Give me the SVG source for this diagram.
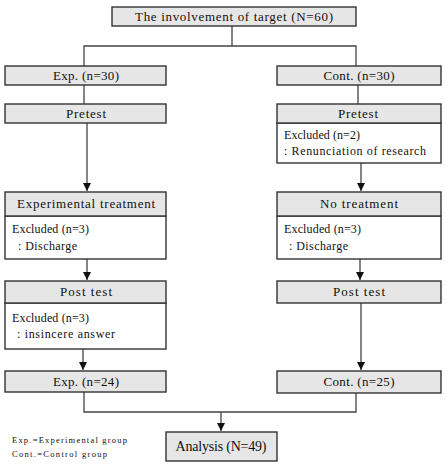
<svg xmlns="http://www.w3.org/2000/svg" width="446" height="464" viewBox="0 0 446 464">
<style>
.h{fill:#e6e6e6;stroke:#333;stroke-width:1.4}
.b{fill:#fff;stroke:#333;stroke-width:1.4}
.t{font-family:"Liberation Serif",serif;font-size:13px;fill:#111}
.s{font-family:"Liberation Serif",serif;font-size:12px;fill:#111}
.l{font-family:"Liberation Serif",serif;font-size:8.5px;fill:#111}
.c{fill:none;stroke:#444;stroke-width:1.3}
</style>
<defs>
<marker id="a" viewBox="0 0 10 10" refX="10" refY="5" markerWidth="8" markerHeight="8" markerUnits="userSpaceOnUse" orient="auto"><path d="M0,0 L10,5 L0,10 z" fill="#111"/></marker>
</defs>
<rect width="446" height="464" fill="#fff"/>
<g id="connectors">
<path class="c" d="M232,26 V46 M84,66 V46 H356 V66"/>
<path class="c" d="M84,85 V104 M358,85 V104"/>
<path class="c" d="M87,123 V191" marker-end="url(#a)"/>
<path class="c" d="M361,163 V191" marker-end="url(#a)"/>
<path class="c" d="M87,259 V280" marker-end="url(#a)"/>
<path class="c" d="M360,259 V280" marker-end="url(#a)"/>
<path class="c" d="M83,349 V370" marker-end="url(#a)"/>
<path class="c" d="M361,303 V370" marker-end="url(#a)"/>
<path class="c" d="M84,392 V412 H356 V393"/>
<path class="c" d="M221,412 V431" marker-end="url(#a)"/>
</g>
<g id="n-target"><rect class="h" x="112" y="7" width="244" height="19"/><text class="t" x="234" y="21" text-anchor="middle" textLength="198" lengthAdjust="spacing">The involvement of target (N=60)</text></g>
<g id="n-exp30"><rect class="h" x="5" y="66" width="161" height="19"/><text class="t" x="86" y="80" text-anchor="middle" textLength="66" lengthAdjust="spacing">Exp. (n=30)</text></g>
<g id="n-cont30"><rect class="h" x="277" y="66" width="164" height="19"/><text class="t" x="359" y="80" text-anchor="middle" textLength="71" lengthAdjust="spacing">Cont. (n=30)</text></g>
<g id="n-pre-l"><rect class="h" x="5" y="104" width="161" height="19"/><text class="t" x="86" y="118" text-anchor="middle" textLength="40" lengthAdjust="spacing">Pretest</text></g>
<g id="n-pre-r"><rect class="b" x="277" y="123" width="164" height="40"/><rect class="h" x="277" y="104" width="164" height="19"/><text class="t" x="358" y="118" text-anchor="middle" textLength="40" lengthAdjust="spacing">Pretest</text><text class="s" x="284" y="139" textLength="76" lengthAdjust="spacing">Excluded (n=2)</text><text class="s" x="284" y="155" textLength="142" lengthAdjust="spacing">: Renunciation of research</text></g>
<g id="n-treat"><rect class="b" x="5" y="216" width="161" height="43"/><rect class="h" x="5" y="192" width="161" height="24"/><text class="t" x="86" y="208" text-anchor="middle" textLength="138" lengthAdjust="spacing">Experimental treatment</text><text class="s" x="12" y="233" textLength="77" lengthAdjust="spacing">Excluded (n=3)</text><text class="s" x="18" y="250" textLength="59" lengthAdjust="spacing">: Discharge</text></g>
<g id="n-notreat"><rect class="b" x="277" y="216" width="164" height="43"/><rect class="h" x="277" y="192" width="164" height="24"/><text class="t" x="359" y="208" text-anchor="middle" textLength="78" lengthAdjust="spacing">No treatment</text><text class="s" x="284" y="233" textLength="77" lengthAdjust="spacing">Excluded (n=3)</text><text class="s" x="289" y="250" textLength="59" lengthAdjust="spacing">: Discharge</text></g>
<g id="n-post-l"><rect class="b" x="5" y="303" width="161" height="46"/><rect class="h" x="5" y="281" width="161" height="22"/><text class="t" x="86" y="296" text-anchor="middle" textLength="52" lengthAdjust="spacing">Post test</text><text class="s" x="12" y="322" textLength="77" lengthAdjust="spacing">Excluded (n=3)</text><text class="s" x="17" y="338" textLength="98" lengthAdjust="spacing">: insincere answer</text></g>
<g id="n-post-r"><rect class="h" x="277" y="281" width="164" height="22"/><text class="t" x="359" y="296" text-anchor="middle" textLength="52" lengthAdjust="spacing">Post test</text></g>
<g id="n-exp24"><rect class="h" x="5" y="371" width="161" height="21"/><text class="t" x="86" y="386" text-anchor="middle" textLength="66" lengthAdjust="spacing">Exp. (n=24)</text></g>
<g id="n-cont25"><rect class="h" x="277" y="371" width="164" height="22"/><text class="t" x="359" y="386" text-anchor="middle" textLength="71" lengthAdjust="spacing">Cont. (n=25)</text></g>
<g id="n-analysis"><rect class="h" x="166" y="432" width="111" height="29"/><text class="t" x="221" y="451" text-anchor="middle" textLength="91" lengthAdjust="spacing" style="font-size:14px">Analysis (N=49)</text></g>
<g id="legend"><text class="l" x="12" y="443" textLength="115" lengthAdjust="spacing">Exp.=Experimental group</text><text class="l" x="12" y="457" textLength="95" lengthAdjust="spacing">Cont.=Control group</text></g>
</svg>
